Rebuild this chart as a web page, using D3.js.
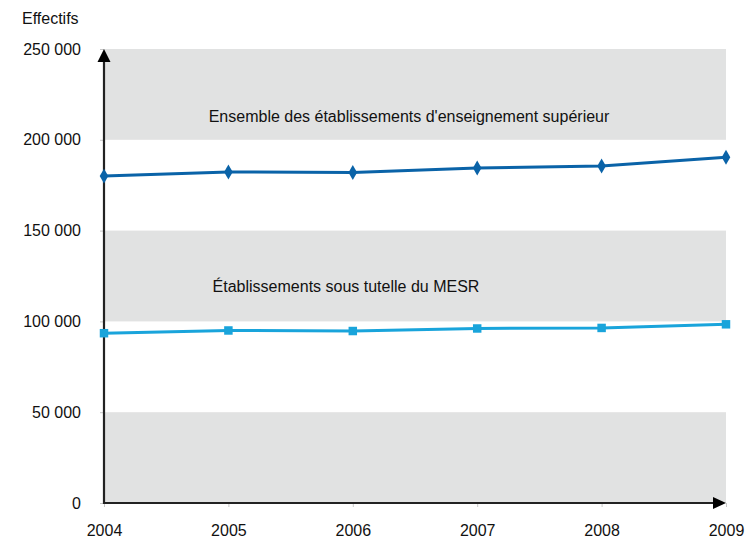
<!DOCTYPE html>
<html>
<head>
<meta charset="utf-8">
<script src="https://cdn.jsdelivr.net/npm/d3@7"></script>
<style>
  html, body { margin: 0; padding: 0; background: #fff; }
  svg text { font-family: "Liberation Sans", Arial, sans-serif; fill: #111; }
</style>
</head>
<body>
<svg id="chart" width="748" height="540"></svg>
<script>
// Effectifs par année
const years = [2004, 2005, 2006, 2007, 2008, 2009];
const ensemble = [180000, 182300, 182000, 184500, 185600, 190400];
const mesr = [93500, 95000, 94700, 96100, 96400, 98400];
const yTicks = [0, 50000, 100000, 150000, 200000, 250000];
const bands = [[0, 50000], [100000, 150000], [200000, 250000]];
const seriesLabels = ["Ensemble des établissements d'enseignement supérieur", "Établissements sous tutelle du MESR"];
const yTitle = "Effectifs";

const svg = d3.select("#chart");
const margin = { left: 104, right: 22, top: 49, bottom: 37 };
const W = 748, H = 540;

const x = d3.scaleLinear().domain([2004, 2009]).range([margin.left, W - margin.right]);
const y = d3.scaleLinear().domain([0, 250000]).range([H - margin.bottom, margin.top]);

const fmt = v => d3.format(",")(v).replace(/,/g, " ");

// Alternating grey bands
svg.append("g").selectAll("rect").data(bands).join("rect")
  .attr("x", x(2004)).attr("width", x(2009) - x(2004))
  .attr("y", d => y(d[1])).attr("height", d => y(d[0]) - y(d[1]))
  .attr("fill", "#e1e2e2");

// Y axis
const yAxis = svg.append("g").attr("transform", `translate(${x(2004)},0)`)
  .call(d3.axisLeft(y).tickValues(yTicks).tickFormat(fmt).tickSize(4).tickPadding(19));
yAxis.select(".domain").remove();
yAxis.selectAll(".tick line").attr("stroke", "#c8c8c8");
yAxis.selectAll(".tick text").attr("font-size", 16).attr("fill", "#111").attr("font-family", "Liberation Sans, Arial, sans-serif");

// X axis
const xAxis = svg.append("g").attr("transform", `translate(0,${y(0)})`)
  .call(d3.axisBottom(x).tickValues(years).tickFormat(d3.format("d")).tickSize(4).tickPadding(18));
xAxis.select(".domain").remove();
xAxis.selectAll(".tick line").attr("stroke", "#c8c8c8");
xAxis.selectAll(".tick text").attr("font-size", 16).attr("fill", "#111").attr("font-family", "Liberation Sans, Arial, sans-serif");

// Axis lines
const x0 = x(2004), y0 = y(0), xEnd = x(2009), yEnd = y(250000);
svg.append("line")
  .attr("x1", x0).attr("y1", y0 + 1).attr("x2", x0).attr("y2", yEnd + 10)
  .attr("stroke", "#222").attr("stroke-width", 2.2);
svg.append("line")
  .attr("x1", x0).attr("y1", y0).attr("x2", xEnd - 10).attr("y2", y0)
  .attr("stroke", "#222").attr("stroke-width", 2.2);

// Arrowheads
svg.append("path")
  .attr("d", `M${x0},${yEnd} L${x0 + 6.5},${yEnd + 13} L${x0 - 6.5},${yEnd + 13} Z`)
  .attr("fill", "#000");
svg.append("path")
  .attr("d", `M${xEnd},${y0} L${xEnd - 13},${y0 - 6} L${xEnd - 13},${y0 + 6} Z`)
  .attr("fill", "#000");

// Series lines
const line = d3.line().x((d, i) => x(years[i])).y(d => y(d));
const series = [
  { values: ensemble, color: "#0a63a8", shape: d3.symbolDiamond },
  { values: mesr, color: "#19a4db", shape: d3.symbolSquare }
];
series.forEach(s => {
  svg.append("path").datum(s.values).attr("d", line)
    .attr("fill", "none").attr("stroke", s.color).attr("stroke-width", 3);
  svg.append("g").selectAll("path").data(s.values).join("path")
    .attr("transform", (d, i) => `translate(${x(years[i])},${y(d)})`)
    .attr("d", d3.symbol().type(s.shape).size(s.shape === d3.symbolSquare ? 72 : 64))
    .attr("fill", s.color);
});

// Series labels
svg.append("text").attr("x", 409).attr("y", 122).attr("text-anchor", "middle")
  .attr("font-size", 16).text(seriesLabels[0]);
svg.append("text").attr("x", 346).attr("y", 292).attr("text-anchor", "middle")
  .attr("font-size", 16).text(seriesLabels[1]);

// Y title
svg.append("text").attr("x", 22).attr("y", 24).attr("font-size", 16).text(yTitle);
</script>
</body>
</html>
